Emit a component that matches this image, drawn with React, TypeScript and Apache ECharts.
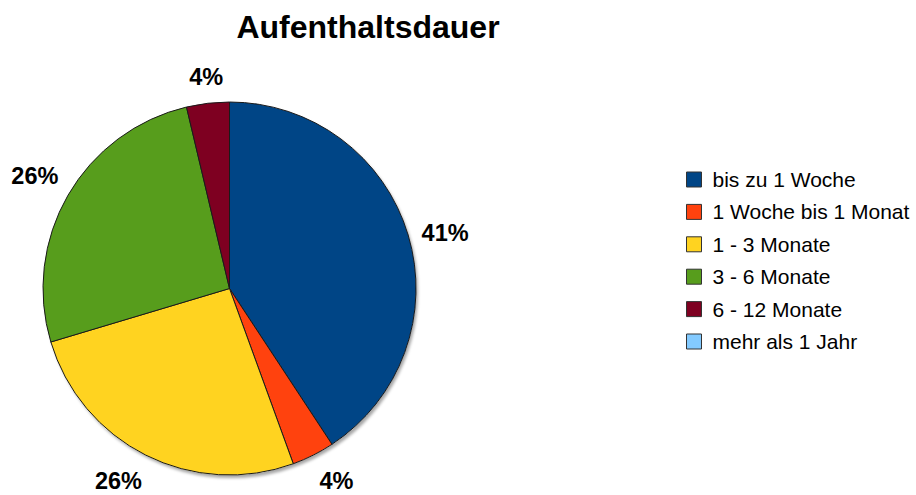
import React, { useEffect, useRef } from "react";
import * as echarts from "echarts";

const TITLE = "Aufenthaltsdauer";
const categories = [
  "bis zu 1 Woche",
  "1 Woche bis 1 Monat",
  "1 - 3 Monate",
  "3 - 6 Monate",
  "6 - 12 Monate",
  "mehr als 1 Jahr",
];
const values = [11, 1, 7, 7, 1, 0];
const colors = ["#004586", "#ff420e", "#ffd320", "#579d1c", "#7e0021", "#83caff"];

const CX = 229.5;
const CY = 288.5;
const R = 186.5;
const GAP = 14;

export default function App() {
  const ref = useRef<HTMLDivElement>(null);
  useEffect(() => {
    if (!ref.current) return;
    const chart = echarts.init(ref.current, undefined, { renderer: "svg" });
    const total = values.reduce((a, b) => a + b, 0);
    const cum: number[] = [];
    let acc = 0;
    values.forEach((v) => {
      cum.push(acc + v / 2);
      acc += v;
    });
    const font = "'Liberation Sans', Arial, sans-serif";
    chart.setOption({
      animation: false,
      backgroundColor: "#ffffff",
      title: {
        text: TITLE,
        left: 363,
        textAlign: "center",
        top: 6,
        textStyle: { fontFamily: font, fontSize: 32, fontWeight: "bold", color: "#000" },
      },
      legend: {
        orient: "vertical",
        left: 681,
        top: 164,
        data: categories,
        icon: "rect",
        itemWidth: 15,
        itemHeight: 15,
        itemGap: 11.4,
        itemStyle: { borderColor: "#333", borderWidth: 1 },
        textStyle: {
          fontFamily: font,
          fontSize: 21,
          lineHeight: 21,
          color: "#000",
          padding: [0, 0, 0, 6],
        },
      },
      series: [
        {
          type: "pie",
          silent: true,
          center: [CX, CY],
          radius: R,
          z: 1,
          label: { show: false },
          labelLine: { show: false },
          data: [
            {
              value: 1,
              name: "__shadow",
              itemStyle: {
                color: "#ffffff",
                shadowColor: "rgba(0,0,0,0.35)",
                shadowBlur: 3,
                shadowOffsetX: 2,
                shadowOffsetY: 3,
              },
            },
          ],
        },
        {
          type: "pie",
          z: 2,
          center: [CX, CY],
          radius: R,
          startAngle: 90,
          clockwise: true,
          avoidLabelOverlap: false,
          itemStyle: { borderColor: "#1a1a1a", borderWidth: 1 },
          label: {
            show: true,
            position: "outside",
            fontFamily: font,
            fontSize: 23.5,
            lineHeight: 20,
            fontWeight: "bold",
            color: "#000",
            formatter: (p: any) =>
              p.value > 0 ? Math.round((p.value / total) * 100) + "%" : "",
          },
          labelLine: { show: false },
          labelLayout: (p: any) => {
            const i = p.dataIndex;
            const ang = (cum[i] / total) * Math.PI * 2; // clockwise from 12 o'clock
            const s = Math.sin(ang);
            const c = Math.cos(ang);
            const d = R + GAP;
            let deg = (90 - (ang * 180) / Math.PI) % 360;
            if (deg < 0) deg += 360;
            const sector = Math.round(deg / 45) % 8;
            const aligns = ["left", "left", "center", "right", "right", "right", "center", "left"];
            const valigns = ["middle", "bottom", "bottom", "bottom", "middle", "top", "top", "top"];
            const a = aligns[sector];
            const v = valigns[sector];
            return {
              x: CX + d * s + (a === "right" ? 2.5 : 0),
              y: CY - d * c + (v === "top" ? 3 : v === "middle" ? 2 : -2),
              align: a,
              verticalAlign: v,
            };
          },
          data: categories.map((name, i) => ({
            name,
            value: values[i],
            itemStyle: { color: colors[i] },
          })),
        },
      ],
    });
    return () => chart.dispose();
  }, []);
  return (
    <div
      ref={ref}
      style={{ position: "fixed", left: 0, top: 0, width: 916, height: 495 }}
    />
  );
}
